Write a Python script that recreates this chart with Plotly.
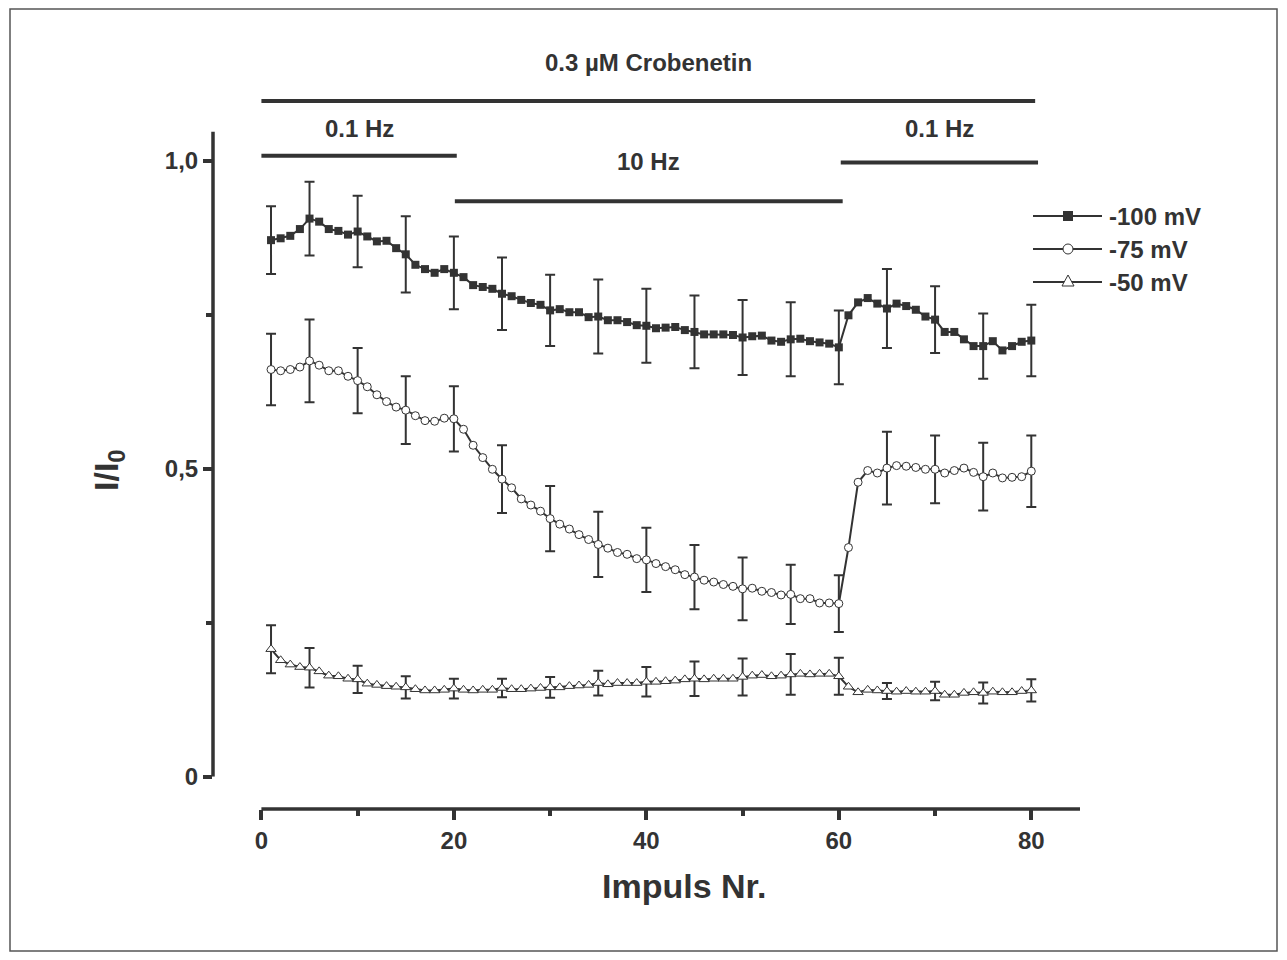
import plotly.graph_objects as go

# ---------------- data ----------------
pulse = list(range(1, 81))

v100 = [0.871, 0.874, 0.878, 0.889, 0.906, 0.901, 0.889, 0.886, 0.880, 0.885,
        0.877, 0.869, 0.870, 0.858, 0.848, 0.831, 0.824, 0.818, 0.824, 0.818,
        0.811, 0.798, 0.795, 0.792, 0.784, 0.780, 0.774, 0.769, 0.766, 0.757,
        0.759, 0.754, 0.754, 0.746, 0.747, 0.741, 0.741, 0.738, 0.733, 0.732,
        0.728, 0.729, 0.730, 0.725, 0.722, 0.718, 0.718, 0.718, 0.717, 0.713,
        0.715, 0.716, 0.708, 0.706, 0.710, 0.711, 0.707, 0.705, 0.703, 0.697,
        0.749, 0.770, 0.777, 0.768, 0.760, 0.768, 0.764, 0.758, 0.747, 0.742,
        0.722, 0.722, 0.710, 0.699, 0.699, 0.707, 0.692, 0.699, 0.706, 0.708]

v75 = [0.661, 0.659, 0.661, 0.665, 0.675, 0.668, 0.659, 0.659, 0.650, 0.643,
       0.633, 0.620, 0.609, 0.600, 0.595, 0.586, 0.578, 0.577, 0.582, 0.581,
       0.564, 0.538, 0.518, 0.499, 0.483, 0.469, 0.451, 0.441, 0.431, 0.419,
       0.410, 0.402, 0.393, 0.385, 0.377, 0.371, 0.364, 0.361, 0.354, 0.352,
       0.346, 0.341, 0.336, 0.328, 0.324, 0.319, 0.316, 0.312, 0.309, 0.305,
       0.306, 0.301, 0.299, 0.295, 0.296, 0.289, 0.289, 0.282, 0.282, 0.281,
       0.372, 0.478, 0.497, 0.493, 0.501, 0.505, 0.504, 0.502, 0.499, 0.499,
       0.493, 0.497, 0.501, 0.494, 0.487, 0.493, 0.485, 0.486, 0.487, 0.496]

v50 = [0.207, 0.189, 0.182, 0.178, 0.177, 0.171, 0.164, 0.163, 0.159, 0.158,
       0.151, 0.149, 0.147, 0.146, 0.145, 0.142, 0.140, 0.140, 0.141, 0.143,
       0.141, 0.140, 0.141, 0.141, 0.144, 0.142, 0.142, 0.143, 0.144, 0.145,
       0.145, 0.147, 0.148, 0.149, 0.152, 0.150, 0.152, 0.152, 0.152, 0.154,
       0.154, 0.155, 0.156, 0.158, 0.159, 0.158, 0.159, 0.159, 0.159, 0.162,
       0.164, 0.165, 0.163, 0.164, 0.166, 0.167, 0.166, 0.167, 0.167, 0.163,
       0.146, 0.137, 0.141, 0.140, 0.139, 0.138, 0.139, 0.138, 0.138, 0.139,
       0.133, 0.133, 0.136, 0.137, 0.136, 0.138, 0.137, 0.137, 0.139, 0.140]

err_pulses = [1, 5, 10, 15, 20, 25, 30, 35, 40, 45, 50, 55, 60, 65, 70, 75, 80]
err100 = [0.055, 0.060, 0.058, 0.062, 0.059, 0.059, 0.058, 0.060, 0.060,
          0.059, 0.061, 0.060, 0.060, 0.064, 0.054, 0.053, 0.058]
err75 = [0.058, 0.067, 0.053, 0.055, 0.053, 0.055, 0.053, 0.053, 0.052,
         0.052, 0.051, 0.048, 0.046, 0.059, 0.055, 0.055, 0.058]
err50 = [0.039, 0.032, 0.022, 0.018, 0.016, 0.015, 0.017, 0.020, 0.024,
         0.028, 0.030, 0.033, 0.030, 0.013, 0.015, 0.017, 0.018]

series_names = ["-100 mV", "-75 mV", "-50 mV"]
y_tickvals = [0, 0.5, 1.0]
y_ticktext = ["0", "0,5", "1,0"]
x_tickvals = [0, 20, 40, 60, 80]
x_title = "Impuls Nr."
y_title = "I/I<sub>0</sub>"

# protocol bars: (label, start pulse, end pulse, bar level, label level)
protocol = [
    ("0.3 µM Crobenetin", 0.0, 80.4, 1.097, 1.160),
    ("0.1 Hz", 0.0, 20.3, 1.008, 1.053),
    ("10 Hz", 20.1, 60.4, 0.934, 0.998),
    ("0.1 Hz", 60.2, 80.7, 0.997, 1.053),
]

# ---------------- layout geometry ----------------
OFF = 8                      # page (body) margin of the html page
W, H = 1287 - OFF, 960 - OFF
ML, MR, MT, MB = 213 - OFF, 207, 19 - OFF, 151
PW, PH = W - ML - MR, H - MT - MB
XR = [-5.03, 85.06]
YR = [0, 1.23]
YD0 = 32.3 / PH

def px(xs):
    """screen x pixel -> paper x"""
    return (xs - OFF - ML) / PW

def py(ys):
    """screen y pixel -> paper y"""
    return (H - MB - (ys - OFF)) / PH

INK = "#333333"
FONT = "Liberation Sans, Arial, Helvetica, sans-serif"

fig = go.Figure()

# error bars (drawn beneath markers)
for vals, errs in [(v100, err100), (v75, err75), (v50, err50)]:
    fig.add_trace(go.Scatter(
        x=err_pulses, y=[vals[p - 1] for p in err_pulses],
        mode="markers", marker=dict(size=1, color="rgba(0,0,0,0)"),
        error_y=dict(type="data", array=errs, visible=True, color=INK,
                     thickness=2, width=5),
        showlegend=False, hoverinfo="skip", cliponaxis=False))

styles = [
    dict(symbol="square", size=8, color=INK, line=dict(color=INK, width=0)),
    dict(symbol="circle", size=8, color="white", line=dict(color=INK, width=1)),
    dict(symbol="triangle-up", size=9, color="white", line=dict(color=INK, width=1)),
]
for name, vals, st in zip(series_names, [v100, v75, v50], styles):
    fig.add_trace(go.Scatter(
        x=pulse, y=vals, name=name, mode="lines+markers",
        line=dict(color=INK, width=2), marker=st, showlegend=False,
        cliponaxis=False))

shapes = []
annotations = []

# protocol bars and labels
for label, x0, x1, lvl, tlvl in protocol:
    shapes.append(dict(type="line", xref="x", yref="y", x0=x0, x1=x1, y0=lvl, y1=lvl,
                       line=dict(color=INK, width=4)))
    annotations.append(dict(text=label, xref="x", yref="y", x=(x0 + x1) / 2, y=tlvl,
                            showarrow=False,
                            font=dict(family=FONT, size=24, color=INK, weight="bold")))

# axis lines (detached style)
shapes.append(dict(type="line", xref="paper", yref="y", x0=0, x1=0, y0=0, y1=1.047,
                   line=dict(color=INK, width=3.5)))
shapes.append(dict(type="line", xref="x", yref="paper", x0=0, x1=XR[1], y0=0, y1=0,
                   line=dict(color=INK, width=3.5)))

# outer frame
shapes.append(dict(type="rect", xref="paper", yref="paper",
                   x0=px(10), x1=px(1277), y0=py(951), y1=py(OFF + 1),
                   line=dict(color="#555555", width=1.5)))

# axis titles
annotations.append(dict(text=x_title, xref="paper", yref="paper", x=px(684), y=py(886),
                        showarrow=False, xanchor="center", yanchor="middle",
                        font=dict(family=FONT, size=34, color=INK, weight="bold")))
annotations.append(dict(text=y_title, xref="paper", yref="paper", x=px(109), y=py(470),
                        showarrow=False, xanchor="center", yanchor="middle", textangle=-90,
                        font=dict(family=FONT, size=34, color=INK, weight="bold")))

# manual legend
leg_y = [216, 249, 282]
for name, st, ly in zip(series_names, styles, leg_y):
    shapes.append(dict(type="line", xref="paper", yref="paper",
                       x0=px(1033), x1=px(1102), y0=py(ly), y1=py(ly),
                       line=dict(color=INK, width=2)))
    cx = 1068
    if st["symbol"] == "square":
        shapes.append(dict(type="rect", xref="paper", yref="paper",
                           x0=px(cx - 5), x1=px(cx + 5), y0=py(ly + 5), y1=py(ly - 5),
                           fillcolor=INK, line=dict(color=INK, width=0)))
    elif st["symbol"] == "circle":
        shapes.append(dict(type="circle", xref="paper", yref="paper",
                           x0=px(cx - 5), x1=px(cx + 5), y0=py(ly + 5), y1=py(ly - 5),
                           fillcolor="white", line=dict(color=INK, width=1)))
    else:
        path = "M {} {} L {} {} L {} {} Z".format(
            px(cx - 6), py(ly + 4), px(cx + 6), py(ly + 4), px(cx), py(ly - 7))
        shapes.append(dict(type="path", xref="paper", yref="paper", path=path,
                           fillcolor="white", line=dict(color=INK, width=1)))
    annotations.append(dict(text=name, xref="paper", yref="paper", x=px(1107), y=py(ly),
                            xanchor="left", yanchor="middle", showarrow=False,
                            font=dict(family=FONT, size=24, color=INK, weight="bold")))

fig.update_layout(
    width=W, height=H,
    margin=dict(l=ML, r=MR, t=MT, b=MB),
    paper_bgcolor="white", plot_bgcolor="white",
    font=dict(family=FONT, color=INK),
    shapes=shapes, annotations=annotations, showlegend=False,
    xaxis=dict(range=XR, anchor="free", position=0, showline=False, showgrid=False,
               zeroline=False, tickmode="array", tickvals=x_tickvals,
               ticks="outside", ticklen=10, tickwidth=3.5, tickcolor=INK,
               minor=dict(tickmode="array", tickvals=[10, 30, 50, 70], ticks="outside",
                          ticklen=6, tickwidth=3.5, tickcolor=INK),
               tickfont=dict(family=FONT, size=24, color=INK, weight="bold")),
    yaxis=dict(range=YR, domain=[YD0, 1], showline=False, showgrid=False, zeroline=False,
               tickmode="array", tickvals=y_tickvals, ticktext=y_ticktext,
               ticks="outside", ticklen=9, tickwidth=3.5, tickcolor=INK,
               minor=dict(tickmode="array", tickvals=[0.25, 0.75], ticks="outside",
                          ticklen=6, tickwidth=3.5, tickcolor=INK),
               tickfont=dict(family=FONT, size=24, color=INK, weight="bold")),
)

fig.write_html("out.html")
